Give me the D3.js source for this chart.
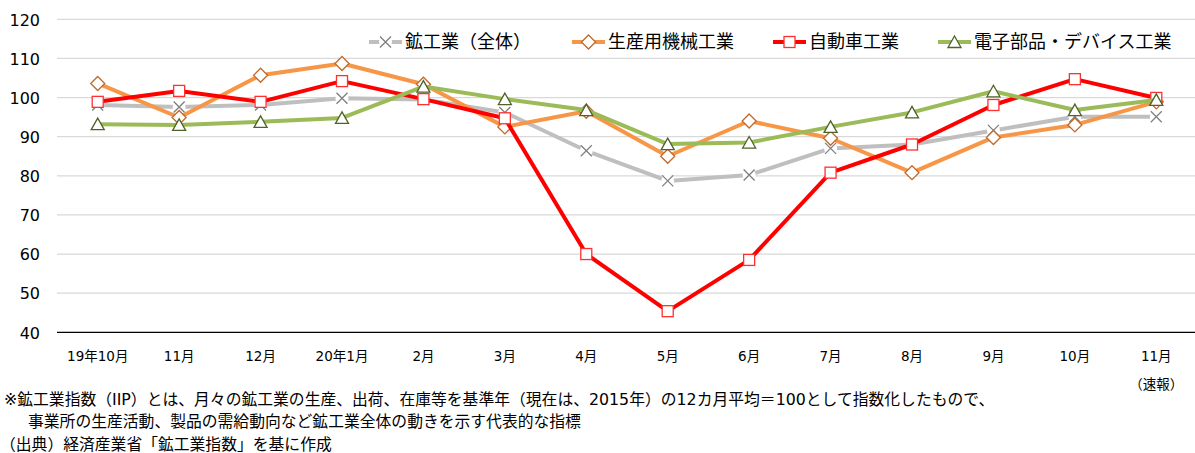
<!DOCTYPE html>
<html>
<head>
<meta charset="utf-8">
<script src="https://cdn.jsdelivr.net/npm/d3@7"></script>
<style>
  body { margin: 0; background: #fff; }
  text { font-family: "DejaVu Sans", "Noto Sans CJK JP", sans-serif; fill: #000; }
</style>
</head>
<body>
<div class="main"></div>
<script>
// data
var months = ["19年10月","11月","12月","20年1月","2月","3月","4月","5月","6月","7月","8月","9月","10月","11月"];
var subLabels = ["","","","","","","","","","","","","","（速報）"];
var seriesNames = ["鉱工業（全体）","生産用機械工業","自動車工業","電子部品・デバイス工業"];
var mining      = [98.1, 97.6, 98.1, 99.8, 99.5, 96.2, 86.4, 78.7, 80.2, 87.0, 88.0, 91.6, 95.1, 95.1];
var machinery   = [103.6, 94.9, 105.7, 108.7, 103.4, 92.5, 96.5, 85.0, 94.0, 89.6, 80.8, 89.8, 93.0, 98.9];
var auto        = [98.9, 101.7, 98.9, 104.2, 99.6, 94.7, 60.0, 45.4, 58.5, 80.8, 88.0, 98.1, 104.7, 99.9];
var electronics = [93.2, 93.0, 93.8, 94.8, 102.8, 99.6, 96.8, 88.1, 88.5, 92.5, 96.2, 101.6, 96.8, 99.4];
var yTicks = [40, 50, 60, 70, 80, 90, 100, 110, 120];
var notes = [
  "※鉱工業指数（IIP）とは、月々の鉱工業の生産、出荷、在庫等を基準年（現在は、2015年）の12カ月平均＝100として指数化したもので、",
  "事業所の生産活動、製品の需給動向など鉱工業全体の動きを示す代表的な指標",
  "（出典）経済産業省「鉱工業指数」を基に作成"
];

const width = 1195, height = 453;

var svg = d3.select(".main").append("svg")
    .attr("width", width)
    .attr("height", height);

var x = d3.scaleBand()
    .domain(d3.range(months.length))
    .range([57, 1197]);

var y = d3.scaleLinear()
    .domain([40, 120])
    .range([332.3, 19.3]);

function cx(i) { return x(i) + x.bandwidth() / 2; }

// gridlines
svg.selectAll("grid")
    .data(yTicks.filter(function(d) { return d > 40; }))
    .enter()
    .append("line")
    .attr("x1", 57)
    .attr("x2", 1195)
    .attr("y1", function(d) { return y(d); })
    .attr("y2", function(d) { return y(d); })
    .style("stroke", "#d9d9d9")
    .style("stroke-width", 1.3);

// y axis labels
var yAxis = svg.append("g")
    .attr("transform", "translate(40,0)")
    .call(d3.axisLeft(y).tickValues(yTicks).tickSize(0).tickPadding(0));
yAxis.select(".domain").remove();
yAxis.selectAll("text")
    .style("font-size", "16px")
    .attr("dy", "0.36em");

// x axis
var xAxis = svg.append("g")
    .attr("transform", "translate(0," + y(40) + ")")
    .call(d3.axisBottom(x).tickSize(0).tickPadding(0).tickFormat(function(i) { return months[i]; }));
xAxis.select(".domain")
    .attr("d", "M57,0H1195")
    .style("stroke", "#000")
    .style("stroke-width", 1.3);
xAxis.selectAll("text")
    .style("font-size", "13.5px")
    .attr("y", 29)
    .attr("dy", 0);

svg.selectAll("sublabel")
    .data(subLabels)
    .enter()
    .append("text")
    .attr("x", function(d, i) { return cx(i); })
    .attr("y", 389)
    .attr("text-anchor", "middle")
    .style("font-size", "13.5px")
    .text(function(d) { return d; });

// series
var series = [
  {name: seriesNames[0], values: mining, line: "#bfbfbf", mark: "x", stroke: "#7f7f7f"},
  {name: seriesNames[1], values: machinery, line: "#f79646", mark: "diamond", stroke: "#c0692a"},
  {name: seriesNames[2], values: auto, line: "#ff0000", mark: "square", stroke: "#ff3030"},
  {name: seriesNames[3], values: electronics, line: "#9bbb59", mark: "triangle", stroke: "#4f6228"}
];

function drawMarker(g, s) {
  if (s.mark == "x") {
    g.append("circle").attr("r", 6.5).style("fill", "#fff");
    g.append("path").attr("d", "M-5.5,-5.5L5.5,5.5M5.5,-5.5L-5.5,5.5")
        .style("stroke", s.stroke).style("stroke-width", 1.3).style("fill", "none");
  } else if (s.mark == "diamond") {
    g.append("path").attr("d", "M0,-7L7,0L0,7L-7,0Z")
        .style("fill", "#fff").style("stroke", s.stroke).style("stroke-width", 1.3);
  } else if (s.mark == "square") {
    g.append("rect").attr("x", -5.5).attr("y", -5.5).attr("width", 11).attr("height", 11)
        .style("fill", "#fff").style("stroke", s.stroke).style("stroke-width", 1.3);
  } else {
    g.append("path").attr("d", "M0,-6L6.5,5.5L-6.5,5.5Z")
        .style("fill", "#fff").style("stroke", s.stroke).style("stroke-width", 1.3);
  }
}

var line = d3.line()
    .x(function(d, i) { return cx(i); })
    .y(function(d) { return y(d); });

series.forEach(function(s) {
  svg.append("path")
      .datum(s.values)
      .attr("d", line)
      .style("fill", "none")
      .style("stroke", s.line)
      .style("stroke-width", 4)
      .style("stroke-linejoin", "round");
  s.values.forEach(function(v, i) {
    var g = svg.append("g").attr("transform", "translate(" + cx(i) + "," + y(v) + ")");
    drawMarker(g, s);
  });
});

// legend
var legendX = [369, 572, 773, 938];
series.forEach(function(s, i) {
  var lg = svg.append("g").attr("transform", "translate(" + legendX[i] + ",42)");
  lg.append("line")
      .attr("x1", 0).attr("x2", 33)
      .style("stroke", s.line)
      .style("stroke-width", 4);
  var m = lg.append("g").attr("transform", "translate(16.5,0)");
  drawMarker(m, s);
  lg.append("text")
      .attr("x", 36)
      .attr("dy", "0.36em")
      .style("font-size", "18px")
      .text(s.name);
});

// footnotes
svg.append("text").attr("x", 4).attr("y", 405).style("font-size", "15.8px").text(notes[0]);
svg.append("text").attr("x", 28).attr("y", 427).style("font-size", "15.8px").text(notes[1]);
svg.append("text").attr("x", 0).attr("y", 450).style("font-size", "15.8px").text(notes[2]);
</script>
</body>
</html>
